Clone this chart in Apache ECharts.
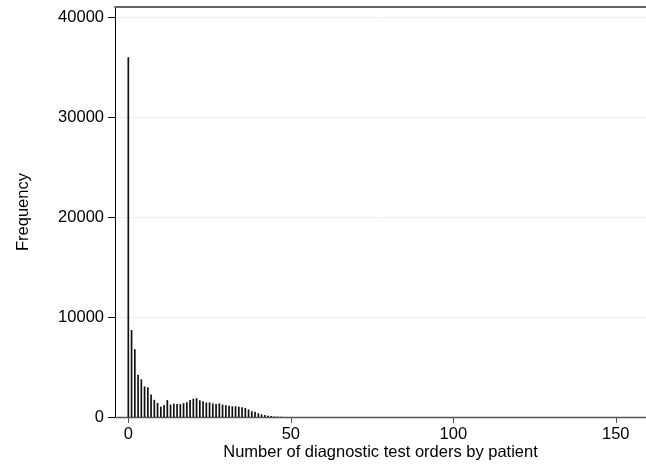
<!DOCTYPE html>
<html>
<head>
<meta charset="utf-8">
<script src="https://cdn.jsdelivr.net/npm/echarts@6/dist/echarts.min.js"></script>
<style>html,body{margin:0;padding:0;background:#fff}#c{width:646px;height:466px}</style>
</head>
<body>
<div id="c"></div>
<script>
// Number of diagnostic test orders per patient (0..55)
const orders = [];
for (let i = 0; i <= 55; i++) orders.push(i);
const frequency = [
  36000, 8700, 6780, 4240, 3770, 3060, 2970, 2240, 1720, 1400,
  1035, 1200, 1690, 1240, 1330, 1300, 1290, 1380, 1480, 1700,
  1830, 1880, 1670, 1570, 1450, 1450, 1350, 1300, 1360, 1250,
  1180, 1135, 1070, 1080, 1040, 970, 900, 750, 580, 520,
  370, 270, 200, 135, 100, 50, 35, 15, 10, 6,
  4, 3, 2, 2, 1, 1
];
const xTicks = [0, 50, 100, 150];
const yTicks = [0, 10000, 20000, 30000, 40000];

const font = 'Liberation Sans, Arial, Helvetica, sans-serif';
const fs = 16.5;
const chart = echarts.init(document.getElementById('c'));
chart.setOption({
  animation: false,
  grid: { left: 115, right: 0, top: 7, bottom: 49, containLabel: false, outerBoundsMode: 'none' },
  xAxis: [{
    type: 'value', min: -4.1, max: 159.3,
    name: 'Number of diagnostic test orders by patient',
    nameLocation: 'middle', nameGap: 27, nameMoveOverlap: false,
    nameTextStyle: { fontFamily: font, fontSize: fs, color: '#000' },
    axisLine: { show: true, onZero: false, lineStyle: { color: '#555', width: 1.3 } },
    axisTick: { show: true, length: 6, lineStyle: { color: '#555' },
      customValues: xTicks },
    axisLabel: { fontFamily: font, fontSize: fs, color: '#000', margin: 9,
      customValues: xTicks, formatter: v => String(v) },
    splitLine: { show: false }
  }, {
    type: 'value', min: -4.1, max: 159.3, position: 'top',
    axisLine: { show: true, onZero: false, lineStyle: { color: '#666', width: 2 } },
    axisTick: { show: false }, axisLabel: { show: false }, splitLine: { show: false }
  }],
  yAxis: {
    type: 'value', min: 0, max: 41030,
    name: 'Frequency', nameLocation: 'middle', nameGap: 83, nameMoveOverlap: false,
    nameTextStyle: { fontFamily: font, fontSize: fs, color: '#000' },
    axisLine: { show: true, onZero: false, lineStyle: { color: '#000', width: 1 } },
    axisTick: { show: true, length: 7, lineStyle: { color: '#000' }, customValues: yTicks },
    axisLabel: { fontFamily: font, fontSize: fs, color: '#000', margin: 11,
      customValues: yTicks, formatter: v => String(v) },
    splitLine: { show: true, lineStyle: { color: '#e8f0f1', width: 1 } }
  },
  series: [{
    type: 'bar',
    xAxisIndex: 0,
    data: orders.map((x, i) => [x, frequency[i]]),
    barWidth: 1.7,
    itemStyle: { color: '#111' },
    silent: true
  }]
});
</script>
</body>
</html>
